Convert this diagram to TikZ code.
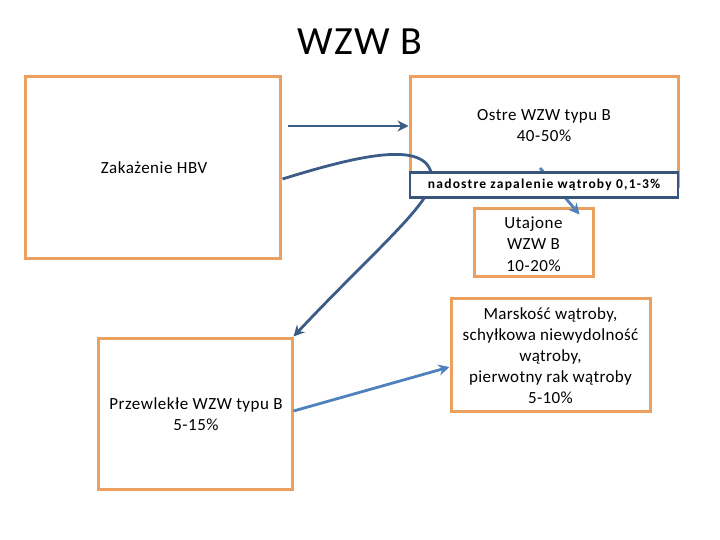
\documentclass[tikz,border=0pt]{standalone}
\usepackage{fontspec}
\setmainfont{Carlito}
\usetikzlibrary{arrows.meta,calc}
\definecolor{boxorange}{RGB}{235,160,95}
\definecolor{darkarrow}{RGB}{59,92,135}
\definecolor{lightarrow}{RGB}{79,129,189}
\definecolor{darkframe}{RGB}{58,85,122}
\begin{document}
\begin{tikzpicture}[x=1pt,y=-1pt,
  obox/.style={draw=boxorange,line width=3pt,fill=white,inner sep=0pt,align=center},
  txt/.style={font=\fontsize{17}{21.5}\selectfont\addfontfeatures{LetterSpace=3},align=center,inner sep=0pt},
  darr/.style={draw=darkarrow,line width=2.8pt,-{Stealth[length=11pt,width=11pt]}},
  larr/.style={draw=lightarrow,line width=2.8pt,-{Stealth[length=11pt,width=11pt]}}]
\useasboundingbox (0,0) rectangle (720,540);
\node[font=\fontsize{40}{44}\selectfont\addfontfeatures{LetterSpace=3},inner sep=0pt] (title) at (360,42) {WZW B};
% boxes
\node[obox,minimum width=255pt,minimum height=181pt] (hbv) at (152.5,167.5) {};
\node[txt] (hbvt) at (154,168) {Zakażenie HBV};
\node[obox,minimum width=268pt,minimum height=110pt] (ostre) at (544,132) {};
\node[txt] (ostret) at (544,125.5) {Ostre WZW typu B\\40-50\%};
\node[obox,minimum width=119pt,minimum height=67pt] (utaj) at (533.5,242.5) {};
\node[txt] (utajt) at (533.5,244) {Utajone\\WZW B\\10-20\%};
\node[obox,minimum width=199pt,minimum height=113pt] (mars) at (550.5,354.5) {};
\node[txt,font=\fontsize{17}{21}\selectfont\addfontfeatures{LetterSpace=2}] (marst) at (550.5,356) {Marskość wątroby,\\schyłkowa niewydolność\\wątroby,\\pierwotny rak wątroby\\5-10\%};
\node[obox,minimum width=194pt,minimum height=151pt] (przew) at (195,413.5) {};
\node[txt] (przewt) at (196,414) {Przewlekłe WZW typu B\\5-15\%};
% arrows
\coordinate (a1s) at (288,126);
\draw[darr] (a1s) -- (ostre.west |- a1s);
\draw[darr] ($(hbv.east)+(1,11.5)$) .. controls (360,155) and (432,138) .. (432,180)
   .. controls (430,205) and (370,255) .. (przew.north east);
\draw[larr] (540,168) -- ($(utaj.north east)+(-15,7)$);
\draw[larr] ($(przew.east)+(0,-2.5)$) -- ($(mars.west)+(0,12.5)$);
% dark box on top
\node[draw=darkframe,line width=2.6pt,fill=white,minimum width=268pt,minimum height=25pt,inner sep=0pt,font=\fontsize{13.5}{15}\selectfont\bfseries\addfontfeatures{LetterSpace=9}] (nad) at (544,185) {nadostre zapalenie wątroby 0,1-3\%};
\end{tikzpicture}
\end{document}
